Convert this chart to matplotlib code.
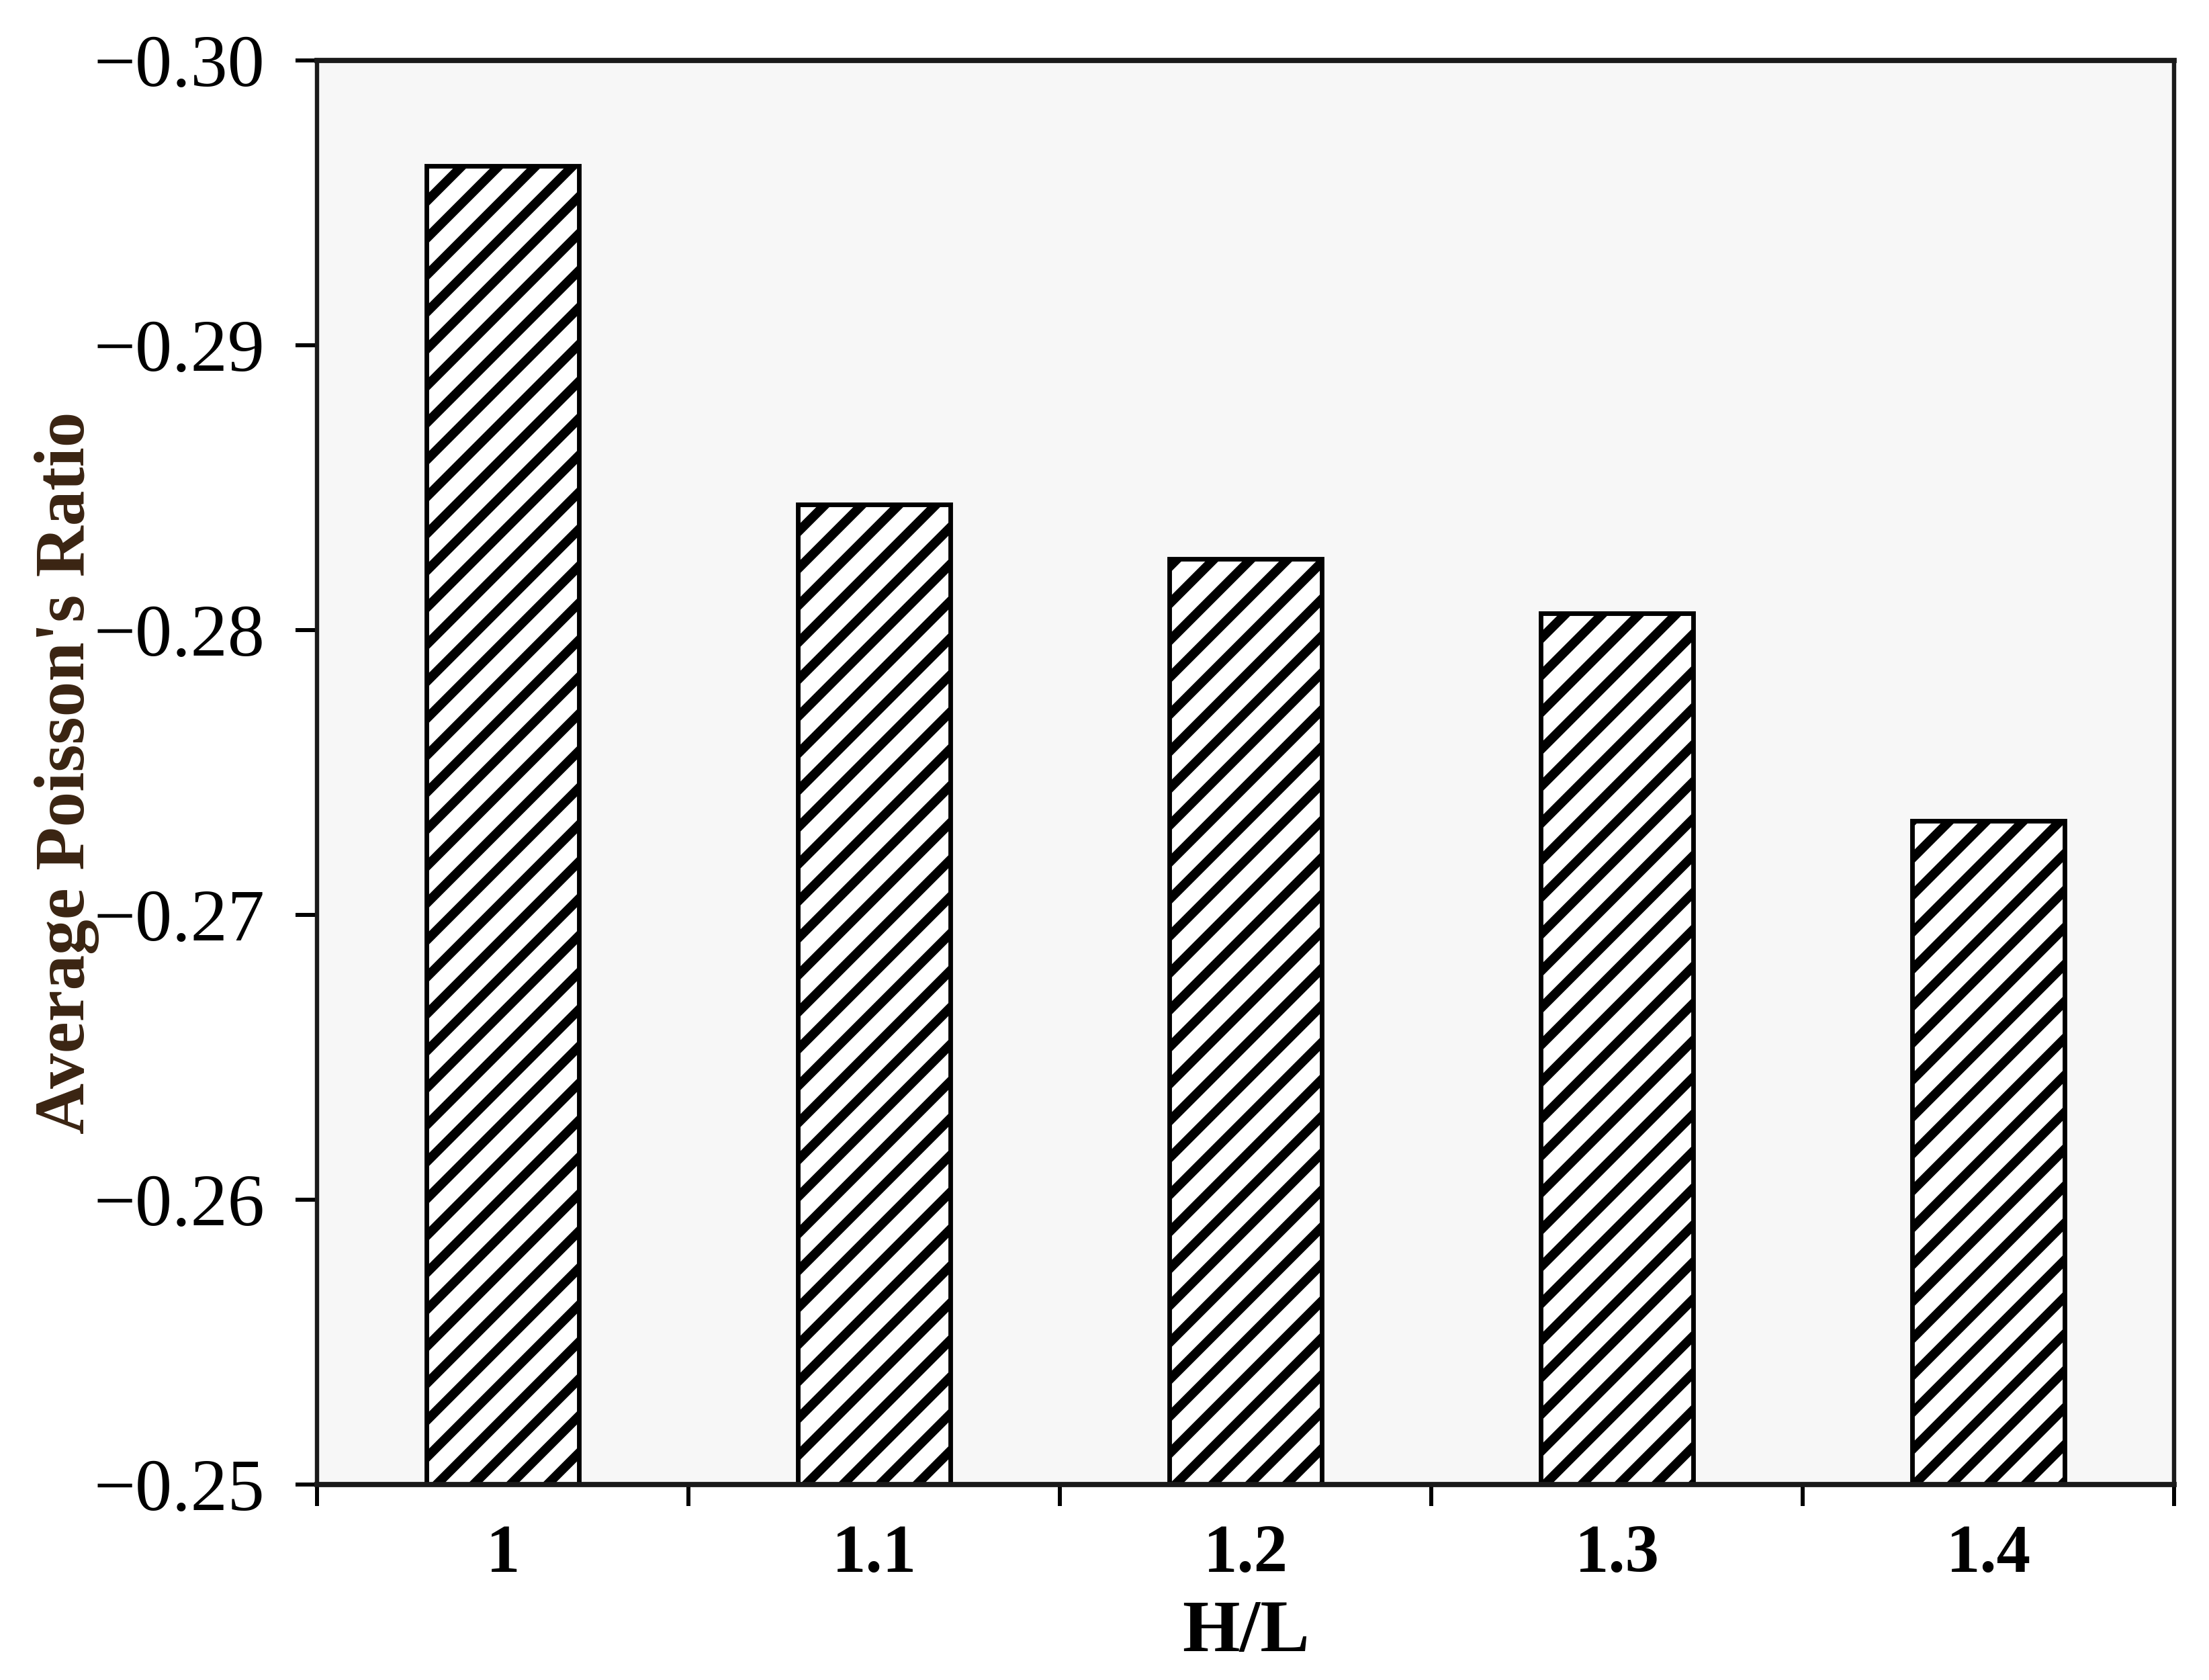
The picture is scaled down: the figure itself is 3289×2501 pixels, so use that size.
import matplotlib
matplotlib.use("Agg")
import matplotlib.pyplot as plt
from matplotlib.ticker import FixedLocator, FuncFormatter

categories = ["1", "1.1", "1.2", "1.3", "1.4"]
values = [-0.2963, -0.2844, -0.2825, -0.2806, -0.2733]
y_ticks = [-0.30, -0.29, -0.28, -0.27, -0.26, -0.25]
baseline = -0.25

plt.rcParams['font.family'] = ['Liberation Serif', 'DejaVu Serif']
plt.rcParams['hatch.linewidth'] = 3.0
plt.rcParams['hatch.color'] = 'black'

DPI = 330
fig = plt.figure(figsize=(3290 / DPI, 2501 / DPI), dpi=DPI)
ax = fig.add_axes([0.1435, 0.1164, 0.8405, 0.8476])
ax.set_facecolor('#f7f7f7')

x = list(range(len(categories)))
heights = [v - baseline for v in values]
ax.bar(x, heights, bottom=baseline, width=0.41, color='white',
       edgecolor='black', linewidth=1.5, hatch='//', zorder=3)

ax.set_xlim(-0.5, len(categories) - 0.5)
ax.set_ylim(-0.25, -0.30)

ax.yaxis.set_major_locator(FixedLocator(y_ticks))
ax.yaxis.set_major_formatter(FuncFormatter(lambda v, p: f"{v:.2f}".replace('-', '\u2212')))
ax.tick_params(axis='y', which='major', direction='out', length=7, width=1.3,
               pad=10, labelsize=24)

ax.xaxis.set_major_locator(FixedLocator([i - 0.5 for i in range(len(categories) + 1)]))
ax.xaxis.set_major_formatter(FuncFormatter(lambda v, p: ""))
ax.set_xticks(x, minor=True)
ax.set_xticklabels(categories, minor=True, fontweight='bold')
ax.tick_params(axis='x', which='major', direction='out', length=7, width=1.3)
ax.tick_params(axis='x', which='minor', length=0, pad=13, labelsize=22)

for side in ['top', 'bottom']:
    ax.spines[side].set_linewidth(1.7)
for side in ['left', 'right']:
    ax.spines[side].set_linewidth(1.4)
for s in ax.spines.values():
    s.set_color('#1a1a1a')
    s.set_zorder(4)

ax.set_xlabel("H/L", fontsize=24, fontweight='bold', labelpad=4)
ax.set_ylabel("Average Poisson's Ratio", fontsize=23, fontweight='bold',
              color='#3a2412', labelpad=-2)

fig.savefig("out.png", dpi=DPI, facecolor='white')
